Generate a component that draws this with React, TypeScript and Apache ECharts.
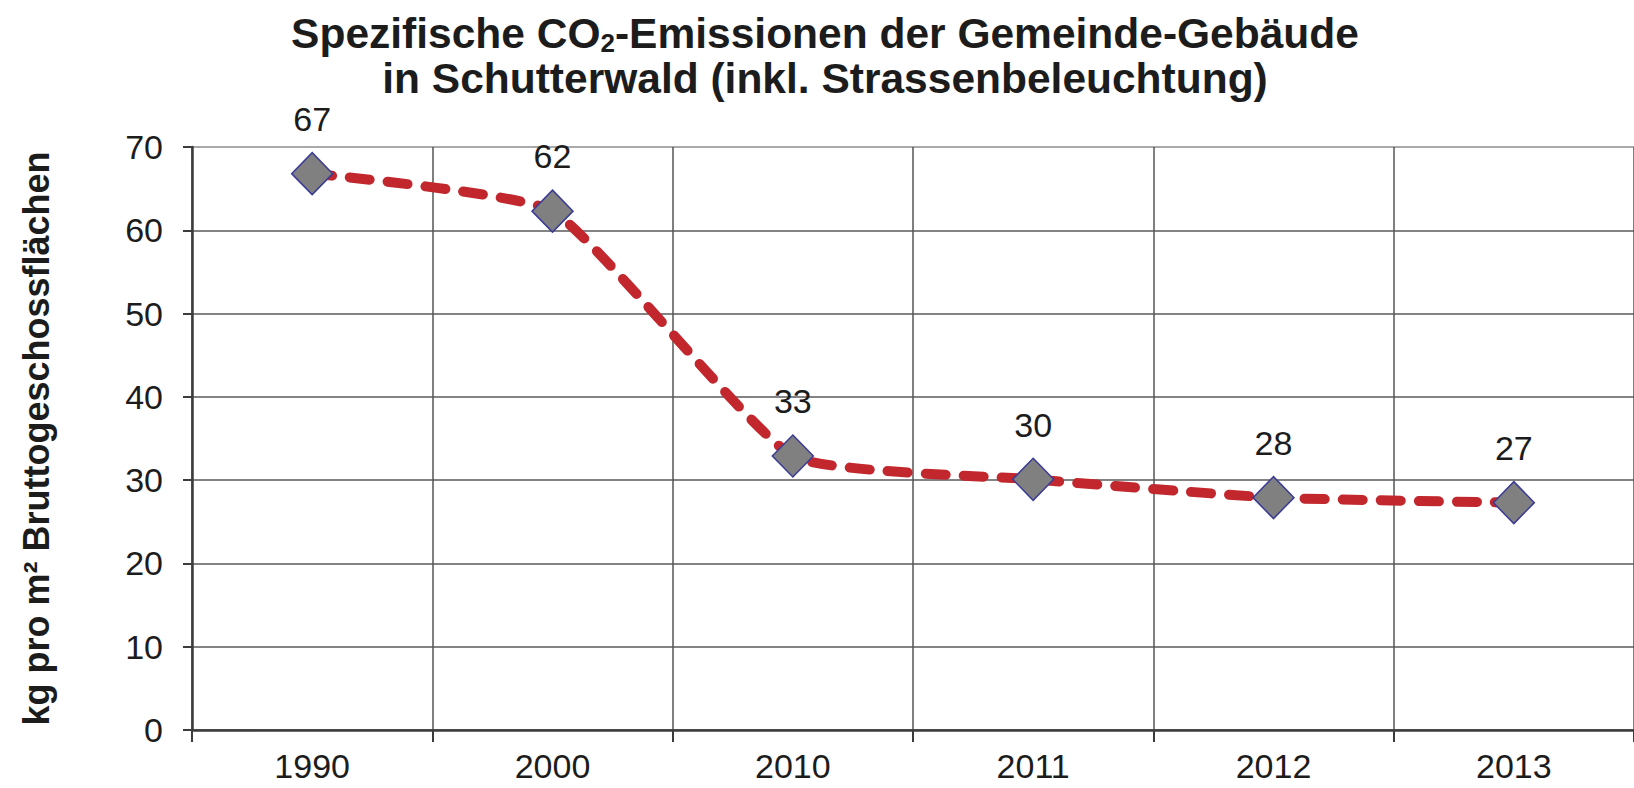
import React, { useEffect, useRef } from "react";
import * as echarts from "echarts";

const categories = ["1990", "2000", "2010", "2011", "2012", "2013"];
const values = [66.8, 62.3, 32.9, 30.1, 27.9, 27.3];
const yMin = 0;
const yMax = 70;
const yInterval = 10;

const FONT = "'Liberation Sans', Arial, sans-serif";
const TEXT = "#1c1c1c";

export default function App() {
  const ref = useRef<HTMLDivElement>(null);
  useEffect(() => {
    if (!ref.current) return;
    const chart = echarts.init(ref.current, undefined, { renderer: "svg" });
    const splitColors = ["#4a4a4a", "#5a5a5a", "#5a5a5a", "#5a5a5a", "#5a5a5a", "#5a5a5a", "#5a5a5a", "#8c8c8c"];
    chart.setOption({
      animation: false,
      backgroundColor: "#ffffff",
      title: {
        left: 825,
        top: 11,
        textAlign: "center",
        padding: 0,
        text:
          "{a|Spezifische CO}{s|2}{a|-Emissionen der Gemeinde-Gebäude}\n{a|in Schutterwald (inkl. Strassenbeleuchtung)}",
        textStyle: {
          fontFamily: FONT,
          rich: {
            a: { fontSize: 42.5, fontWeight: "bold", lineHeight: 45, color: TEXT, fontFamily: FONT },
            s: { fontSize: 26, fontWeight: "bold", lineHeight: 20, verticalAlign: "bottom", color: TEXT, fontFamily: FONT },
          },
        },
      },
      grid: {
        left: 192,
        top: 147,
        bottom: 58,
        width: 1453,
        containLabel: false,
      },
      xAxis: {
        type: "category",
        data: categories,
        boundaryGap: true,
        axisLine: { show: true, lineStyle: { color: "#3c3c3c", width: 2.5 } },
        axisTick: { show: true, length: 12, inside: false, lineStyle: { color: "#3c3c3c", width: 2 } },
        axisLabel: { color: TEXT, fontSize: 34, lineHeight: 28, fontFamily: FONT, margin: 22 },
        splitLine: { show: true, lineStyle: { color: "#555555", width: 1.5 } },
      },
      yAxis: {
        type: "value",
        min: yMin,
        max: yMax,
        interval: yInterval,
        name: "kg pro m² Bruttogeschossflächen",
        nameLocation: "middle",
        nameGap: 138,
        nameTextStyle: { color: TEXT, fontSize: 36, fontWeight: "bold", fontFamily: FONT },
        axisLine: { show: true, lineStyle: { color: "#3c3c3c", width: 2.5 } },
        axisTick: { show: true, length: 9, lineStyle: { color: "#3c3c3c", width: 2 } },
        axisLabel: { color: TEXT, fontSize: 34, fontFamily: FONT, margin: 29 },
        splitLine: { show: true, lineStyle: { color: splitColors, width: 1.5 } },
      },
      series: [
        {
          type: "line",
          data: values,
          smooth: 0.15,
          symbol: "diamond",
          symbolSize: [41, 42],
          itemStyle: { color: "#808080", borderColor: "#3b3b96", borderWidth: 1.5 },
          lineStyle: { color: "#c1272d", width: 10, type: [20, 18], cap: "round" },
          label: {
            show: true,
            position: "top",
            distance: 16,
            color: TEXT,
            fontSize: 34,
            fontFamily: FONT,
            formatter: (p: any) => String(Math.round(p.value)),
          },
          emphasis: { disabled: true },
        },
      ],
    });
    return () => chart.dispose();
  }, []);
  return <div ref={ref} style={{ width: 1634, height: 788, position: "absolute", left: 0, top: 0 }} />;
}
